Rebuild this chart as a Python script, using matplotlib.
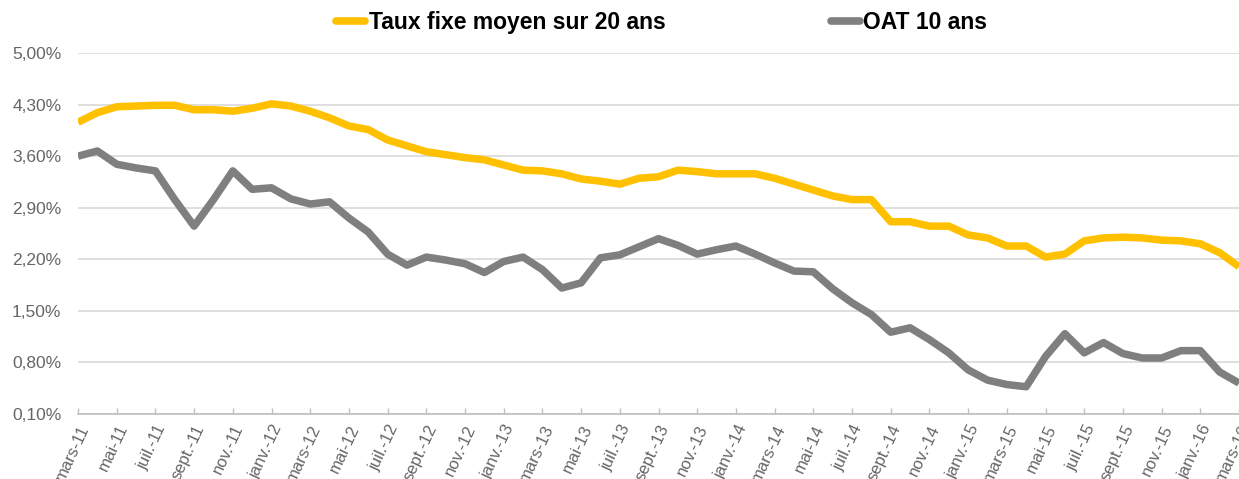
import matplotlib
matplotlib.use("Agg")
import matplotlib.pyplot as plt
from matplotlib.ticker import FuncFormatter

plt.rcParams['font.family'] = ['Liberation Sans', 'DejaVu Sans']

# Mois de mars-11 à mars-16 (61 points mensuels)
mois = ["janv.", "févr.", "mars", "avr.", "mai", "juin",
        "juil.", "août", "sept.", "oct.", "nov.", "déc."]
etiquettes = []
for k in range(61):
    m = (2 + k) % 12
    a = 11 + (2 + k) // 12
    etiquettes.append(f"{mois[m]}-{a}")

taux_20_ans = [4.06, 4.19, 4.27, 4.28, 4.29, 4.29, 4.23, 4.23, 4.21, 4.25,
               4.31, 4.28, 4.21, 4.12, 4.01, 3.96, 3.82, 3.74, 3.66, 3.62,
               3.58, 3.55, 3.48, 3.41, 3.40, 3.36, 3.29, 3.26, 3.22, 3.30,
               3.32, 3.41, 3.39, 3.36, 3.36, 3.36, 3.30, 3.22, 3.14, 3.06,
               3.01, 3.01, 2.71, 2.71, 2.65, 2.65, 2.53, 2.49, 2.38, 2.38,
               2.23, 2.27, 2.45, 2.49, 2.50, 2.49, 2.46, 2.45, 2.41, 2.29,
               2.10]

oat_10_ans = [3.60, 3.67, 3.49, 3.44, 3.40, 3.01, 2.65, 3.01, 3.40, 3.15,
              3.17, 3.02, 2.95, 2.98, 2.76, 2.57, 2.27, 2.12, 2.23, 2.19,
              2.14, 2.02, 2.17, 2.23, 2.06, 1.81, 1.88, 2.22, 2.26, 2.37,
              2.48, 2.39, 2.27, 2.33, 2.38, 2.27, 2.15, 2.04, 2.03, 1.80,
              1.61, 1.45, 1.21, 1.27, 1.11, 0.93, 0.70, 0.56, 0.50, 0.47,
              0.88, 1.19, 0.93, 1.07, 0.92, 0.86, 0.86, 0.96, 0.96, 0.67,
              0.52]

graduations_y = [0.10, 0.80, 1.50, 2.20, 2.90, 3.60, 4.30, 5.00]

jaune = "#FFC000"
gris = "#7F7F7F"
gris_texte = "#666666"

fig = plt.figure(figsize=(12.39, 4.79), dpi=100)
ax = fig.add_axes([78 / 1239, 65 / 479, 1 - 78 / 1239, 361 / 479])

x = list(range(len(etiquettes)))
ax.plot(x, taux_20_ans, color=jaune, lw=5.4, solid_joinstyle="round",
        solid_capstyle="butt", label="Taux fixe moyen sur 20 ans", zorder=3)
ax.plot(x, oat_10_ans, color=gris, lw=5.4, solid_joinstyle="round",
        solid_capstyle="butt", label="OAT 10 ans", zorder=3)

ax.set_xlim(0, 59.9)
ax.set_ylim(0.10, 5.00)
ax.set_yticks(graduations_y)
ax.yaxis.set_major_formatter(FuncFormatter(lambda v, p: f"{v:.2f}%".replace(".", ",")))
ax.grid(axis="y", color="#D9D9D9", lw=1.2, zorder=0)

ax.set_xticks(x[::2])
ax.set_xticklabels(etiquettes[::2], rotation=65, ha="right", va="top",
                   rotation_mode="anchor")
ax.tick_params(axis="x", direction="in", length=4, width=1, color="#BFBFBF",
               labelsize=12, labelcolor=gris_texte, pad=6)
ax.tick_params(axis="y", length=0, labelsize=12.5, labelcolor=gris_texte, pad=12)

for s in ["top", "right", "left"]:
    ax.spines[s].set_visible(False)
ax.spines["bottom"].set_color("#BFBFBF")
ax.spines["bottom"].set_linewidth(1.2)

leg = fig.legend(loc="center", bbox_to_anchor=(0.534, 0.952), ncol=2,
                 frameon=False, handlelength=1.27, handletextpad=0.15,
                 columnspacing=7.2, prop={"weight": "bold", "size": 16.5})
for h in leg.get_lines():
    h.set_solid_capstyle("round")
    h.set_linewidth(5.5)

fig.savefig("out.png", dpi=100)
